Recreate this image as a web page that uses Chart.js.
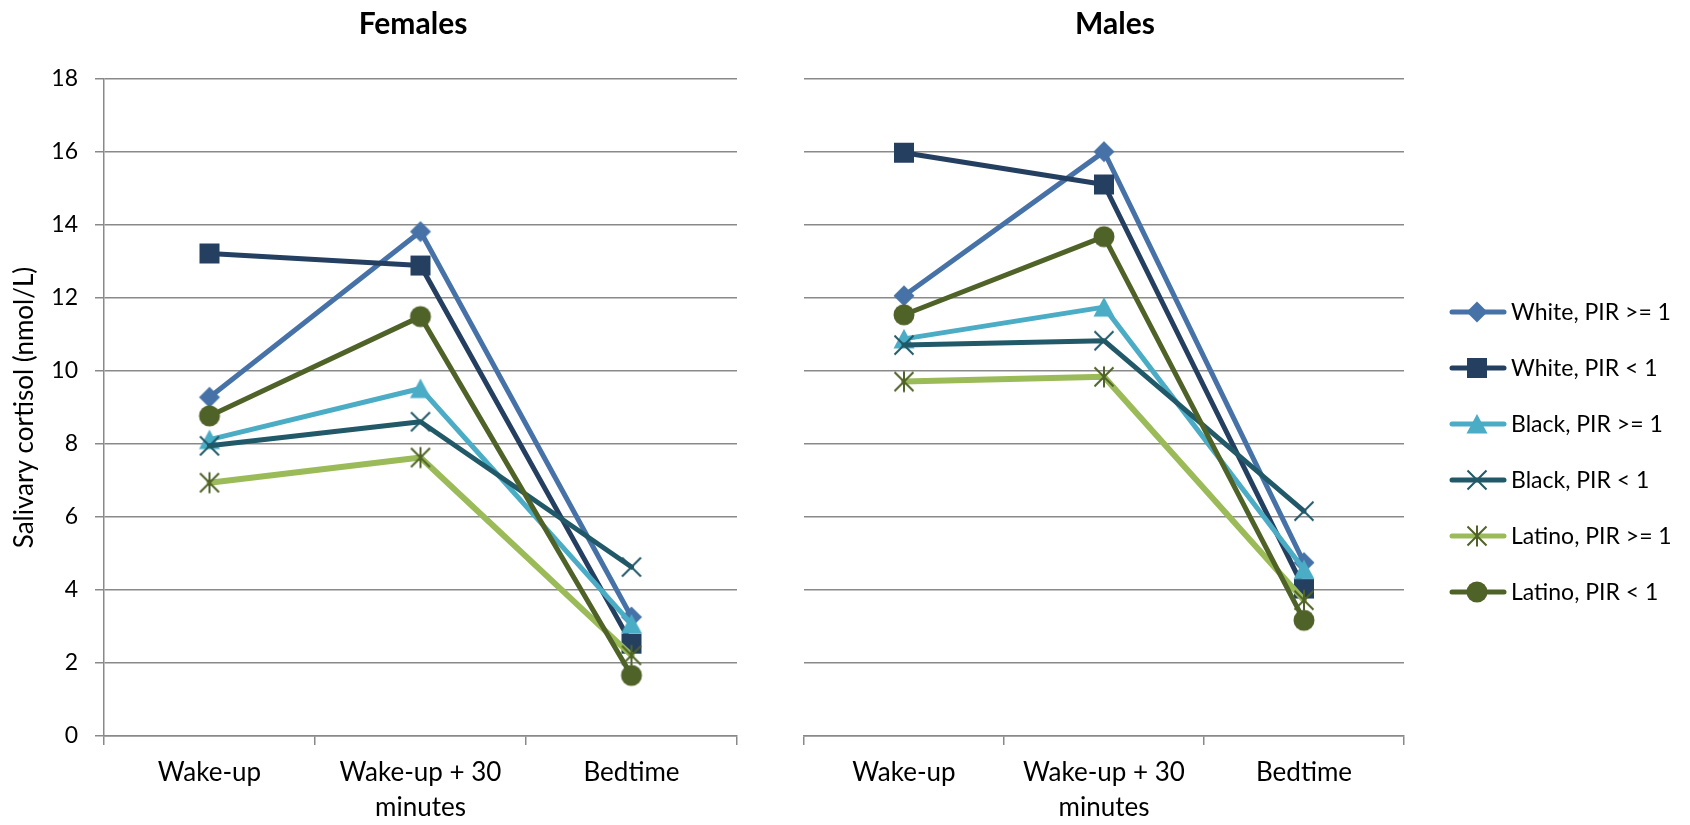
<!DOCTYPE html>
<html>
<head>
<meta charset="utf-8">
<script src="https://cdn.jsdelivr.net/npm/chart.js@4.4.1/dist/chart.umd.min.js"></script>
<style>
  html, body { margin: 0; background: #fff; }
  #wrap { position: relative; width: 1690px; height: 825px; }
  canvas { position: absolute; top: 0; }
  #chart-females { left: 0; }
  #chart-males { left: 760px; }
</style>
</head>
<body>
<div id="wrap">
  <canvas id="chart-females" width="760" height="825"></canvas>
  <canvas id="chart-males" width="930" height="825"></canvas>
</div>
<script>
// --- data (nmol/L) ---
const categories = ['Wake-up', ['Wake-up + 30', 'minutes'], 'Bedtime'];
const seriesNames = ['White, PIR >= 1', 'White, PIR < 1', 'Black, PIR >= 1', 'Black, PIR < 1', 'Latino, PIR >= 1', 'Latino, PIR < 1'];
const yTicks = [0, 2, 4, 6, 8, 10, 12, 14, 16, 18];

const femWhiteHi  = [9.28, 13.82, 3.26];
const femWhiteLo  = [13.22, 12.89, 2.53];
const femBlackHi  = [8.12, 9.52, 3.07];
const femBlackLo  = [7.95, 8.61, 4.63];
const femLatinoHi = [6.94, 7.63, 2.21];
const femLatinoLo = [8.77, 11.49, 1.66];

const maleWhiteHi  = [12.06, 16.01, 4.75];
const maleWhiteLo  = [15.98, 15.11, 4.04];
const maleBlackHi  = [10.88, 11.75, 4.56];
const maleBlackLo  = [10.71, 10.83, 6.16];
const maleLatinoHi = [9.71, 9.84, 3.72];
const maleLatinoLo = [11.54, 13.68, 3.17];

const lineColors   = ['#4672A8', '#243F60', '#4BACC6', '#215968', '#9BBB59', '#4F6228'];
const markerColors = ['#4672A8', '#243F60', '#4BACC6', '#215968', '#4F6228', '#4F6228'];
const markerShapes = ['diamond', 'square', 'triangle', 'x', 'star', 'circle'];
const lineWidths   = [5, 5, 5, 5, 6, 5];

const GRID = '#898989';
const FONT = 'Lato';

// marker images (Excel-style shapes)
function makeMarker(shape, color) {
  const s = 26, c = document.createElement('canvas');
  c.width = s; c.height = s;
  const g = c.getContext('2d'), m = s / 2;
  g.fillStyle = color; g.strokeStyle = color; g.lineWidth = 2;
  g.beginPath();
  if (shape === 'diamond') {
    g.moveTo(m, m - 10.5); g.lineTo(m + 10.5, m); g.lineTo(m, m + 10.5); g.lineTo(m - 10.5, m);
    g.closePath(); g.fill();
  } else if (shape === 'square') {
    g.rect(m - 10, m - 10, 20, 20); g.fill();
  } else if (shape === 'triangle') {
    g.moveTo(m, m - 10); g.lineTo(m + 10.5, m + 9.5); g.lineTo(m - 10.5, m + 9.5);
    g.closePath(); g.fill();
  } else if (shape === 'circle') {
    g.arc(m, m, 10.5, 0, Math.PI * 2); g.fill();
  } else {
    g.moveTo(m - 9.5, m - 9.5); g.lineTo(m + 9.5, m + 9.5);
    g.moveTo(m + 9.5, m - 9.5); g.lineTo(m - 9.5, m + 9.5);
    if (shape === 'star') { g.moveTo(m, m - 10.5); g.lineTo(m, m + 10.5); }
    g.stroke();
  }
  return c;
}
const markers = markerShapes.map((sh, i) => makeMarker(sh, markerColors[i]));

function buildDatasets(seriesData) {
  return seriesData.map((data, i) => ({
    label: seriesNames[i],
    data,
    borderColor: lineColors[i],
    backgroundColor: lineColors[i],
    borderWidth: lineWidths[i],
    borderJoinStyle: 'round',
    borderCapStyle: 'round',
    pointStyle: markers[i],
    pointRadius: 10,
    pointHoverRadius: 10,
    tension: 0,
    clip: false,
    order: -i
  }));
}

function xScale() {
  return {
    type: 'category',
    offset: true,
    grid: { display: true, drawOnChartArea: false, drawTicks: true, tickLength: 9, color: GRID, lineWidth: 1.5, offset: true },
    border: { display: true, color: GRID, width: 1.5 },
    ticks: { color: '#000', font: { family: FONT, size: 26, lineHeight: 1.35 }, padding: 10, maxRotation: 0, autoSkip: false },
    afterFit: s => { s.height = 89; }
  };
}

// panel title, centred where the original places it
function panelTitle(text, cx) {
  return {
    id: 'panelTitle',
    afterDraw(chart) {
      const ctx = chart.ctx;
      ctx.save();
      ctx.font = `bold 30px ${FONT}`;
      ctx.fillStyle = '#000';
      ctx.textAlign = 'center';
      ctx.textBaseline = 'middle';
      ctx.fillText(text, cx, 24);
      ctx.restore();
    }
  };
}

const sideLegend = {
  id: 'sideLegend',
  afterDraw(chart) {
    const ctx = chart.ctx;
    ctx.save();
    ctx.font = `23px ${FONT}`;
    ctx.textBaseline = 'middle';
    seriesNames.forEach((name, i) => {
      const y = 312 + i * 56;
      ctx.strokeStyle = lineColors[i];
      ctx.lineWidth = 5;
      ctx.lineCap = 'round';
      ctx.beginPath(); ctx.moveTo(692, y); ctx.lineTo(744, y); ctx.stroke();
      const mk = markers[i];
      ctx.drawImage(mk, 717 - mk.width / 2, y - mk.height / 2);
      ctx.fillStyle = '#000';
      ctx.fillText(name, 751, y + 1);
    });
    ctx.restore();
  }
};

function makeChart(id, title, titleX, seriesData, isLeft) {
  const yAxis = {
    min: 0, max: 18,
    afterBuildTicks: s => { s.ticks = yTicks.map(v => ({ value: v })); },
    grid: { color: GRID, lineWidth: 1.5, drawTicks: isLeft, tickLength: 9 },
    border: { display: isLeft, color: GRID, width: 1.5 },
    ticks: { display: isLeft, color: '#000', font: { family: FONT, size: 23 }, padding: 17 },
    title: { display: isLeft, text: 'Salivary cortisol (nmol/L)', color: '#000', font: { family: FONT, size: 26 }, padding: { top: 9, bottom: 0 } },
    afterFit: s => { s.width = isLeft ? 104 : 44; }
  };
  const extra = [panelTitle(title, titleX)];
  if (!isLeft) extra.push(sideLegend);
  return new Chart(document.getElementById(id), {
    type: 'line',
    data: { labels: categories, datasets: buildDatasets(seriesData) },
    options: {
      responsive: false,
      animation: false,
      events: [],
      layout: { padding: { left: 0, right: isLeft ? 23 : 286, top: 79, bottom: 0 } },
      scales: { x: xScale(), y: yAxis },
      plugins: {
        legend: { display: false },
        tooltip: { enabled: false },
        title: { display: false }
      }
    },
    plugins: extra
  });
}

function draw() {
  makeChart('chart-females', 'Females', 413,
    [femWhiteHi, femWhiteLo, femBlackHi, femBlackLo, femLatinoHi, femLatinoLo], true);
  makeChart('chart-males', 'Males', 1115 - 760,
    [maleWhiteHi, maleWhiteLo, maleBlackHi, maleBlackLo, maleLatinoHi, maleLatinoLo], false);
}

Promise.all([
  document.fonts.load(`23px ${FONT}`),
  document.fonts.load(`bold 30px ${FONT}`)
]).then(draw, draw);
</script>
</body>
</html>
